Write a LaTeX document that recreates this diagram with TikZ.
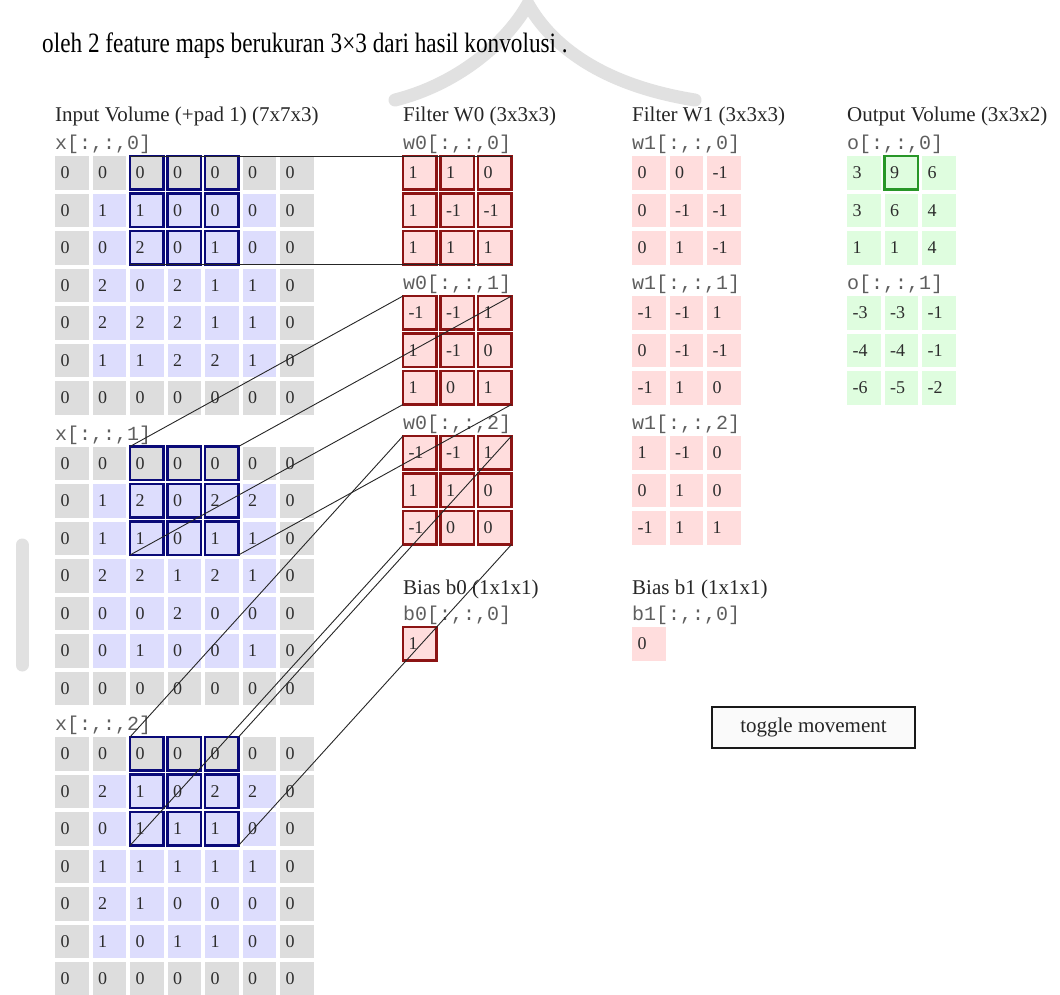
\documentclass[tikz,border=0pt]{standalone}
\usepackage{fontspec}
\setmainfont{Liberation Serif}
\setmonofont{Liberation Mono}
\definecolor{padc}{RGB}{221,221,221}
\definecolor{inc}{RGB}{221,221,253}
\definecolor{pinkc}{RGB}{255,221,221}
\definecolor{greenc}{RGB}{223,253,223}
\definecolor{navyc}{RGB}{10,10,120}
\definecolor{redc}{RGB}{140,20,20}
\definecolor{boxg}{RGB}{40,150,40}
\definecolor{txt}{RGB}{45,45,45}
\definecolor{lbl}{RGB}{95,95,95}
\definecolor{wm}{RGB}{225,225,225}
\newcommand\mkinput[2]{%
  \foreach \rowl [count=\r from 0] in {#2} {
    \foreach \v [count=\c from 0] in \rowl {
      \pgfmathtruncatemacro\pd{(\r==0||\r==6||\c==0||\c==6)?1:0}
      \ifnum\pd=1 \def\cf{padc}\else\def\cf{inc}\fi
      \node[cell, fill=\cf] (x#1-\r-\c) at ({55+37.5*\c},{156+290.5*#1+37.5*\r}) {\v};
    }
  }
}
\newcommand\mkmat[5]{% name, xleft, k, style, data
  \foreach \rowl [count=\r from 0] in {#5} {
    \foreach \v [count=\c from 0] in \rowl {
      \node[cell, #4] (#1-#3-\r-\c) at ({#2+37.5*\c},{156+140*#3+37.5*\r}) {\v};
    }
  }
}
\begin{document}
\begin{tikzpicture}[x=1pt,y=-1pt,
  cell/.style={rectangle, anchor=north west, minimum width=33.5pt, minimum height=33.5pt,
    inner xsep=5.5pt, inner ysep=0pt, outer sep=0pt, text width=22.5pt, align=left,
    font=\fontsize{18}{18}\selectfont, text=txt},
  wcell/.style={fill=pinkc, draw=redc, line width=2.7pt},
  pcell/.style={fill=pinkc},
  ocell/.style={fill=greenc},
  winbox/.style={draw=navyc, line width=2.6pt},
  conn/.style={draw=black!85, line width=0.9pt},
  title/.style={anchor=base west, inner sep=0pt, font=\fontsize{21}{21}\selectfont, text=black!85},
  mono/.style={anchor=base west, inner sep=0pt, font=\ttfamily\fontsize{20}{20}\selectfont, text=lbl},
  wmark/.style={draw=wm, line width=13pt, line cap=round}
]
\useasboundingbox (0,0) rectangle (1060,994);
\fill[white] (0,0) rectangle (1060,994);

% watermark (faint logo behind the page)
\draw[wmark] (395,100) .. controls (455,85) and (505,45) .. (528,4) .. controls (551,45) and (601,85) .. (695,100);
\draw[wmark] (22,545) -- (22,665);

% top sentence
\node[anchor=base west, inner sep=0pt, font=\fontsize{28}{28}\selectfont] (sent) at (42,52)
  {\scalebox{0.83}[1]{oleh 2 feature maps berukuran 3×3 dari hasil konvolusi .}};

% titles
\node[title] (tin) at (55,121) {Input Volume (+pad 1) (7x7x3)};
\node[title] (tw0) at (403,121) {Filter W0 (3x3x3)};
\node[title] (tw1) at (632,121) {Filter W1 (3x3x3)};
\node[title] (tout) at (847,121) {Output Volume (3x3x2)};

% slice labels
\foreach \k in {0,1,2} {
  \node[mono] (lx\k) at (55,{149.5+290.5*\k}) {x[:,:,\k]};
  \node[mono] (lw0\k) at (403,{149.5+140*\k}) {w0[:,:,\k]};
  \node[mono] (lw1\k) at (632,{149.5+140*\k}) {w1[:,:,\k]};
}
\foreach \k in {0,1} {
  \node[mono] (lo\k) at (847,{149.5+140*\k}) {o[:,:,\k]};
}

% input volume
\mkinput{0}{{0,0,0,0,0,0,0},{0,1,1,0,0,0,0},{0,0,2,0,1,0,0},{0,2,0,2,1,1,0},{0,2,2,2,1,1,0},{0,1,1,2,2,1,0},{0,0,0,0,0,0,0}}
\mkinput{1}{{0,0,0,0,0,0,0},{0,1,2,0,2,2,0},{0,1,1,0,1,1,0},{0,2,2,1,2,1,0},{0,0,0,2,0,0,0},{0,0,1,0,0,1,0},{0,0,0,0,0,0,0}}
\mkinput{2}{{0,0,0,0,0,0,0},{0,2,1,0,2,2,0},{0,0,1,1,1,0,0},{0,1,1,1,1,1,0},{0,2,1,0,0,0,0},{0,1,0,1,1,0,0},{0,0,0,0,0,0,0}}
\foreach \k in {0,1,2} {
  \foreach \r in {0,1,2} {
    \foreach \c in {2,3,4} {
      \draw[winbox] (x\k-\r-\c.north west) rectangle (x\k-\r-\c.south east);
    }
  }
}

% filter W0
\mkmat{w0}{403}{0}{wcell}{{1,1,0},{1,-1,-1},{1,1,1}}
\mkmat{w0}{403}{1}{wcell}{{-1,-1,1},{1,-1,0},{1,0,1}}
\mkmat{w0}{403}{2}{wcell}{{-1,-1,1},{1,1,0},{-1,0,0}}
% filter W1
\mkmat{w1}{632}{0}{pcell}{{0,0,-1},{0,-1,-1},{0,1,-1}}
\mkmat{w1}{632}{1}{pcell}{{-1,-1,1},{0,-1,-1},{-1,1,0}}
\mkmat{w1}{632}{2}{pcell}{{1,-1,0},{0,1,0},{-1,1,1}}
% output
\mkmat{o}{847}{0}{ocell}{{3,9,6},{3,6,4},{1,1,4}}
\mkmat{o}{847}{1}{ocell}{{-3,-3,-1},{-4,-4,-1},{-6,-5,-2}}
\draw[draw=boxg, line width=2.6pt] (o-0-0-1.north west) rectangle (o-0-0-1.south east);

% biases
\node[title] (tb0) at (403,594) {Bias b0 (1x1x1)};
\node[mono] (lb0) at (403,620.5) {b0[:,:,0]};
\node[cell, wcell] (b0) at (403,627) {1};
\node[title] (tb1) at (632,594) {Bias b1 (1x1x1)};
\node[mono] (lb1) at (632,620.5) {b1[:,:,0]};
\node[cell, pcell] (b1) at (632,627) {0};

% button
\node[draw=black!90, line width=2pt, fill=black!2, minimum width=203pt, minimum height=41pt,
  inner sep=0pt, font=\fontsize{21}{21}\selectfont, text=black!85] (btn) at (813.5,727.5) {toggle movement};

% connectors from receptive field to filter slices
\foreach \k in {0,1,2} {
  \draw[conn] (x\k-0-2.north west) -- (w0-\k-0-0.north west);
  \draw[conn] (x\k-0-4.north east) -- (w0-\k-0-2.north east);
  \draw[conn] (x\k-2-2.south west) -- (w0-\k-2-0.south west);
  \draw[conn] (x\k-2-4.south east) -- (w0-\k-2-2.south east);
}
\end{tikzpicture}
\end{document}
